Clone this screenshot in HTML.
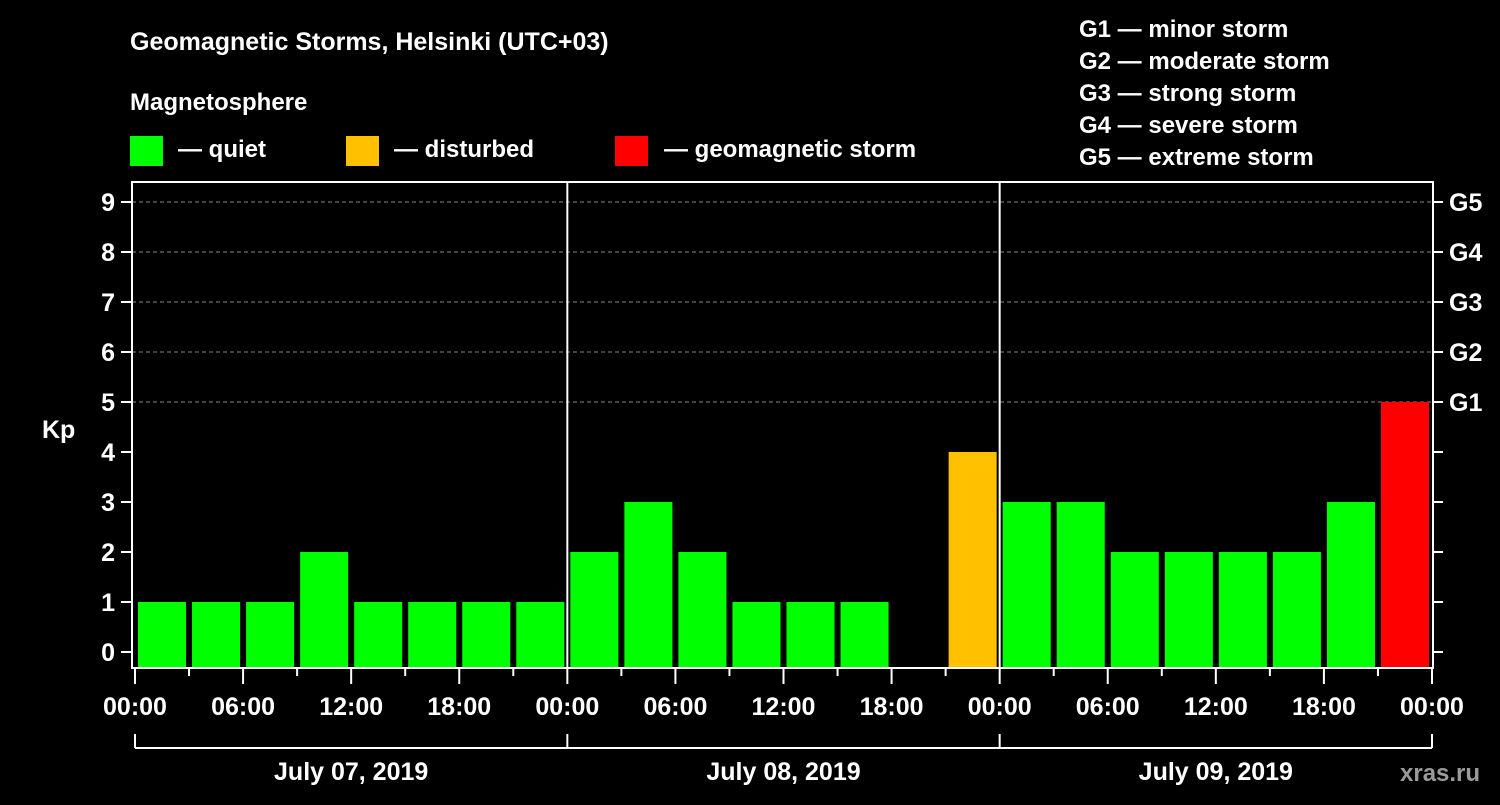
<!DOCTYPE html>
<html><head><meta charset="utf-8"><style>
body{margin:0;background:#000;width:1500px;height:800px;overflow:hidden;font-family:"Liberation Sans",sans-serif}
svg text{font-family:"Liberation Sans",sans-serif;font-weight:bold;fill:#fff}
</style></head><body>
<svg id="c" width="1500" height="800">
<text x="130" y="50" font-size="25">Geomagnetic Storms, Helsinki (UTC+03)</text>
<text x="130" y="110" font-size="24">Magnetosphere</text>
<rect x="130" y="136" width="33" height="30" fill="#00ff00"/>
<text x="178" y="157" font-size="24">— quiet</text>
<rect x="346" y="136" width="33" height="30" fill="#ffc000"/>
<text x="394" y="157" font-size="24">— disturbed</text>
<rect x="615" y="136" width="33" height="30" fill="#ff0000"/>
<text x="664" y="157" font-size="24">— geomagnetic storm</text>
<g font-size="24">
<text x="1079" y="37">G1 — minor storm</text>
<text x="1079" y="69">G2 — moderate storm</text>
<text x="1079" y="101">G3 — strong storm</text>
<text x="1079" y="133">G4 — severe storm</text>
<text x="1079" y="165">G5 — extreme storm</text>
</g>
<text x="42" y="438" font-size="25">Kp</text>
<text x="1400" y="781" font-size="24" fill="#999" style="fill:#9a9a9a">xras.ru</text>
<g id="plot"></g>
</svg>
<script>
const kpValues=[1,1,1,2,1,1,1,1, 2,3,2,1,1,1,null,4, 3,3,2,2,2,2,3,5];
const dayLabels=["July 07, 2019","July 08, 2019","July 09, 2019"];
const hourLabels=["00:00","06:00","12:00","18:00"];
const yTicks=[0,1,2,3,4,5,6,7,8,9];
const gLabels=["G1","G2","G3","G4","G5"];
const NS="http://www.w3.org/2000/svg";
const g=document.getElementById('plot');
const L=132,R=1433,T=182,B=668,X0=135,X1=1432;
const y=v=>652-v*50;
const x=h=>X0+(X1-X0)*h/72;
function el(t,a){const e=document.createElementNS(NS,t);for(const k in a)e.setAttribute(k,a[k]);g.appendChild(e);return e;}
// gridlines
yTicks.forEach(v=>{if(v>=5){const l=el('line',{x1:L,x2:R,y1:y(v),y2:y(v),stroke:'#888','stroke-dasharray':'4,3','stroke-width':1});

}});
// bars
kpValues.forEach((v,i)=>{if(v===null)return;
const col=v>=5?'#ff0000':(v>=4?'#ffc000':'#00ff00');
const r=el('rect',{x:x(i*3)+3,y:y(v),width:(x(3)-x(0))-6,height:667-y(v),fill:col});

});
// day separators
[1,2].forEach(d=>{const l=el('line',{x1:x(d*24),x2:x(d*24),y1:T,y2:B,stroke:'#fff','stroke-width':2});

});
// frame
const f=el('rect',{x:L,y:T,width:R-L,height:B-T,fill:'none',stroke:'#fff','stroke-width':2});


// y ticks
yTicks.forEach(v=>{
el('line',{x1:121,x2:L,y1:y(v),y2:y(v),stroke:'#fff','stroke-width':2});
el('line',{x1:R,x2:1443,y1:y(v),y2:y(v),stroke:'#fff','stroke-width':2});
const t=el('text',{x:115,y:y(v)+9,'font-size':25,'text-anchor':'end'});t.textContent=v;


});
gLabels.forEach((s,i)=>{const t=el('text',{x:1449,y:y(5+i)+9,'font-size':25});t.textContent=s;

});
// x ticks
for(let h=0;h<=72;h+=3){const major=h%6===0;
el('line',{x1:x(h),x2:x(h),y1:B,y2:B+(major?16:8),stroke:'#fff','stroke-width':2});
if(major){const t=el('text',{x:x(h),y:715,'font-size':25,'text-anchor':'middle'});t.textContent=hourLabels[(h%24)/6];

}}
// date bracket
el('line',{x1:x(0),x2:x(72),y1:748,y2:748,stroke:'#fff','stroke-width':2});
for(let d=0;d<=3;d++)el('line',{x1:x(d*24),x2:x(d*24),y1:734,y2:748,stroke:'#fff','stroke-width':2});
dayLabels.forEach((s,d)=>{const t=el('text',{x:x(d*24+12),y:780,'font-size':25,'text-anchor':'middle'});t.textContent=s;

});
</script>
</body></html>
